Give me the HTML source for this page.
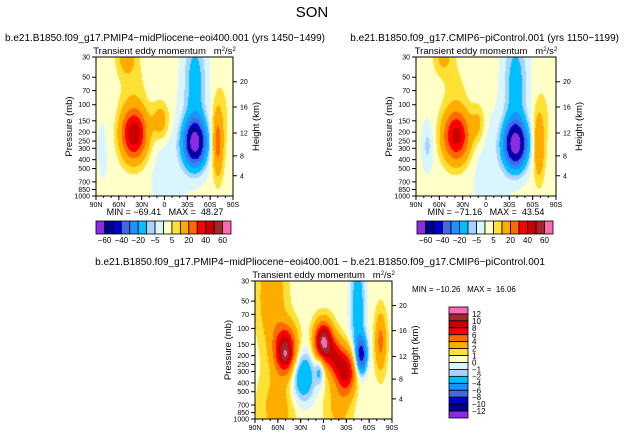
<!DOCTYPE html>
<html><head><meta charset="utf-8"><style>
body{margin:0;background:#fff;}
#wrap{position:relative;width:624px;height:437px;overflow:hidden;background:#fff;font-family:"Liberation Sans",sans-serif;}
canvas{position:absolute;}
svg{position:absolute;left:0;top:0;}
text{font-family:"Liberation Sans",sans-serif;fill:#000;white-space:pre;}
</style></head><body>
<div id="wrap">
<canvas id="c1"></canvas>
<canvas id="c2"></canvas>
<canvas id="c3"></canvas>
<svg id="s" width="624" height="437"></svg>
</div>
<script>
// ---- data ----
const pressureTicks=[30,50,70,100,150,200,250,300,400,500,700,850,1000];
const heightTicks=[4,8,12,16,20];
const heightTickPressures=[600,363,204,106,56];
const latTicks=["90N","60N","30N","0","30S","60S","90S"];
const levelsFull=[-60,-50,-40,-30,-20,-10,-5,0,5,10,20,30,40,50,60];
const levelsFullLabels=["-60","-40","-20","-5","5","20","40","60"];
const levelsDiff=[-12,-10,-8,-6,-4,-2,-1,0,1,2,4,6,8,10,12];
const colors=["#8b2be2","#00008b","#0000cd","#4169e1","#1e90ff","#00bfff","#a6d3ff","#d9f6ff","#ffffc8","#ffe135","#ffac00","#ff6a00","#ff0000","#c80000","#a0282a","#ff69b4"];
// blobs: lat (+N), pressure(mb), amplitude, lat-width, logp-width
const blobLat1=[40,5,-40,-40,-70,50,42,-5,80,-80];
const blobP1=[210,150,260,60,260,30,60,450,300,100];
const blobAmp1=[47,14,-69,-16,22,12,5,-4,-2,3];
const blobSL1=[12,8,10,10,5,9,14,18,10,12];
const blobSP1=[0.45,0.33,0.4,0.9,0.6,0.3,0.5,0.9,1,1];
const blobLat2=[38,10,-38,-38,-68,55,75,-5,-80,40];
const blobP2=[220,160,270,60,280,30,280,450,100,60];
const blobAmp2=[43,10,-71,-16,18,10,-8,-4,3,4];
const blobSL2=[12,6,10,10,5,9,5,18,12,14];
const blobSP2=[0.45,0.33,0.4,0.9,0.6,0.3,0.4,0.9,1,0.5];
const blobLat3=[50,0,-30,-15,27,5,-50,-45,-75,68,60,-20,50];
const blobP3=[175,140,300,210,340,290,195,60,140,45,750,700,200];
const blobAmp3=[10,12,8,6,-4.8,-3,-9,-4,4,3,2.2,2,2];
const blobSL3=[10,8,9,8,11,4,5,7,5,12,16,12,4];
const blobSP3=[0.42,0.33,0.38,0.33,0.45,0.25,0.3,1.0,0.5,0.9,0.6,0.5,0.15];
const offsets=[1.5,1.5,0.6];
const titles1=["b.e21.B1850.f09_g17.PMIP4\u2212midPliocene\u2212eoi400.001 (yrs 1450\u22121499)","b.e21.B1850.f09_g17.CMIP6\u2212piControl.001 (yrs 1150\u22121199)"];
const minmax=[["MIN = \u221269.41   MAX =  48.27"],["MIN = \u221271.16   MAX =  43.54"],["MIN = \u221210.26   MAX =  16.06"]];
// ---- drawing ----
const S=document.getElementById('s');
const NS="http://www.w3.org/2000/svg";
function el(tag,attrs,parent){const e=document.createElementNS(NS,tag);for(const k in attrs)e.setAttribute(k,attrs[k]);(parent||S).appendChild(e);return e;}
function txt(x,y,s,size,anchor,name,rot){const t=el('text',{x:x,y:y,'font-size':size,'text-anchor':anchor||'middle'});


if(rot)t.setAttribute('transform','rotate(-90 '+x+' '+y+')');t.textContent=s;return t;}
function colorFor(v,levels){let i=0;while(i<levels.length&&v>=levels[i])i++;return colors[i];}
function hex(c){return [parseInt(c.substr(1,2),16),parseInt(c.substr(3,2),16),parseInt(c.substr(5,2),16)];}
function drawPlot(o){
 const {x0,y0,w,h}=o;
 const Y=p=>y0+Math.log(p/30)/Math.log(1000/30)*h;
 const cv=document.getElementById(o.canvas);cv.width=w;cv.height=h;cv.style.left=x0+'px';cv.style.top=y0+'px';
 const ctx=cv.getContext('2d');const img=ctx.createImageData(w,h);
 for(let j=0;j<h;j++){const lp=Math.log(30)+(j+0.5)/h*Math.log(1000/30);
  for(let i=0;i<w;i++){const lat=90-(i+0.5)/w*180;let v=o.off;
   for(let k=0;k<o.lat.length;k++){const dl=(lat-o.lat[k])/o.sl[k],dp=(lp-Math.log(o.p[k]))/o.sp[k];v+=o.amp[k]*Math.exp(-0.5*(dl*dl+dp*dp));}
   const c=hex(colorFor(v,o.levels));const q=(j*w+i)*4;img.data[q]=c[0];img.data[q+1]=c[1];img.data[q+2]=c[2];img.data[q+3]=255;}}
 ctx.putImageData(img,0,0);
 const fr=el('rect',{x:x0,y:y0,width:w,height:h,fill:'none',stroke:'#000','stroke-width':1});
 
 
 pressureTicks.forEach(p=>{el('line',{x1:x0-4,x2:x0,y1:Y(p),y2:Y(p),stroke:'#000'});txt(x0-6,Y(p)+2.5,String(p),7,'end','pressure-tick-label');});
 heightTicks.forEach((z,i)=>{const y=Y(heightTickPressures[i]);el('line',{x1:x0+w,x2:x0+w+4,y1:y,y2:y,stroke:'#000'});txt(x0+w+7,y+2.5,String(z),7,'start','height-tick-label');});
 latTicks.forEach((l,i)=>{const x=x0+i/6*w;el('line',{x1:x,x2:x,y1:y0+h,y2:y0+h+4,stroke:'#000'});txt(x,y0+h+11,l,7,'middle','lat-tick-label');});
 for(let i=0;i<=18;i++){const x=x0+i/18*w;el('line',{x1:x,x2:x,y1:y0+h,y2:y0+h+2,stroke:'#000'});}
 txt(x0-24,y0+h/2,"Pressure (mb)",9.5,'middle','pressure-axis-title',true);
 txt(x0+w+26,y0+h/2,"Height (km)",9.5,'middle','height-axis-title',true);
 const t=txt(x0+w/2,y0-3,"",9.5,'middle','plot-subtitle');t.innerHTML='Transient eddy momentum &#160;&#160;m<tspan dy="-3" font-size="6">2</tspan><tspan dy="3">/s</tspan><tspan dy="-3" font-size="6">2</tspan>';
}
txt(312,17,"SON",15,'middle','figure-title');
drawPlot({name:'plot-midpliocene',canvas:'c1',x0:96,y0:57,w:137,h:139,lat:blobLat1,p:blobP1,amp:blobAmp1,sl:blobSL1,sp:blobSP1,off:offsets[0],levels:levelsFull});
drawPlot({name:'plot-picontrol',canvas:'c2',x0:416,y0:57,w:140,h:139,lat:blobLat2,p:blobP2,amp:blobAmp2,sl:blobSL2,sp:blobSP2,off:offsets[1],levels:levelsFull});
drawPlot({name:'plot-difference',canvas:'c3',x0:255,y0:281,w:137,h:138,lat:blobLat3,p:blobP3,amp:blobAmp3,sl:blobSL3,sp:blobSP3,off:offsets[2],levels:levelsDiff});
txt(5,41,titles1[0],10,'start','subtitle-midpliocene');
txt(619,41,titles1[1],10,'end','subtitle-picontrol');
txt(320,265,"b.e21.B1850.f09_g17.PMIP4\u2212midPliocene\u2212eoi400.001 \u2212 b.e21.B1850.f09_g17.CMIP6\u2212piControl.001",10,'middle','subtitle-difference');
txt(165,215,minmax[0][0],9,'middle','minmax-midpliocene');
txt(486,215,minmax[1][0],9,'middle','minmax-picontrol');
txt(412,292,minmax[2][0],8,'start','minmax-difference');
function hbar(x0,y0,w,h,name){const bw=w/16;colors.forEach((c,i)=>{const r=el('rect',{x:x0+i*bw,y:y0,width:bw,height:h,fill:c,stroke:'#000','stroke-width':0.8});

});
levelsFullLabels.forEach((l,k)=>{const i=1+2*k;txt(x0+i*bw,y0+h+9,l.replace('-','\u2212'),8,'middle',name+'-label');});}
hbar(96,221,135,13,'colorbar-midpliocene');
hbar(417,221,136,13,'colorbar-picontrol');
(function(){const x0=449,y0=307,w=19,h=111,bh=h/16;
colors.slice().reverse().forEach((c,i)=>{const r=el('rect',{x:x0,y:y0+i*bh,width:w,height:bh,fill:c,stroke:'#000','stroke-width':0.8});

});
levelsDiff.slice().reverse().forEach((l,i)=>{txt(x0+w+4,y0+(i+1)*bh+3,String(l).replace('-','\u2212'),8,'start','colorbar-difference-label');});})();
</script>
</body></html>
